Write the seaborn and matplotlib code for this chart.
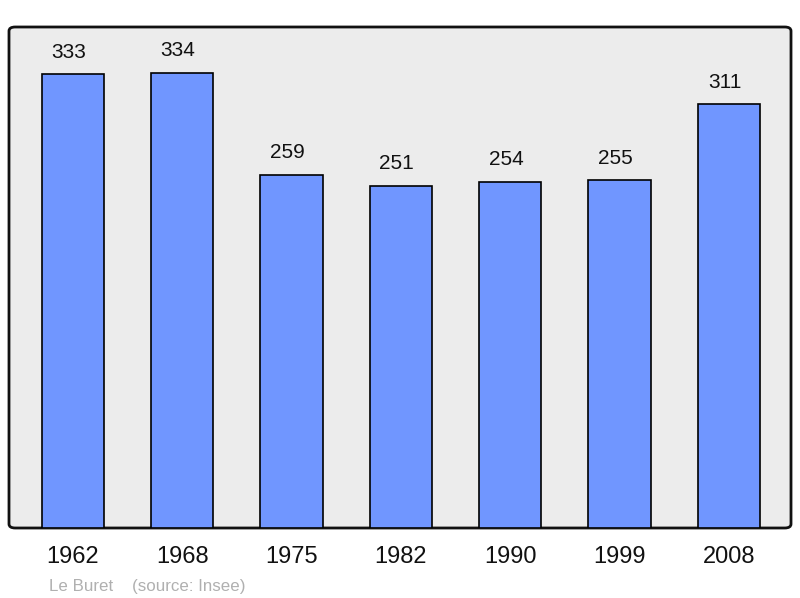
import matplotlib
matplotlib.use("Agg")
import matplotlib.pyplot as plt
import seaborn as sns
import pandas as pd
from matplotlib.patches import FancyBboxPatch

years = ["1962", "1968", "1975", "1982", "1990", "1999", "2008"]
population = [333, 334, 259, 251, 254, 255, 311]

df = pd.DataFrame({"year": years, "pop": population})

sns.set_style("white")
plt.rcParams["font.family"] = ["Liberation Sans", "DejaVu Sans"]

fig = plt.figure(figsize=(8, 5.98), dpi=100)
ax = fig.add_axes([9 / 800, 1 - 528 / 598, 782 / 800, 501 / 598])

sns.barplot(data=df, x="year", y="pop", color="#7096ff", saturation=1,
            width=0.57, edgecolor="black", linewidth=1.2, ax=ax)

ax.set_ylim(0, 367.5)
ax.set_xlim(-0.585, 6.57)
ax.set_facecolor("none")
for s in ax.spines.values():
    s.set_visible(False)

# rounded frame
frame = FancyBboxPatch((0, 0), 1, 1, boxstyle="round,pad=0,rounding_size=0.008",
                       transform=ax.transAxes, facecolor="#ececec",
                       edgecolor="#111111", linewidth=2, zorder=0, clip_on=False)
ax.add_patch(frame)

for i, v in enumerate(population):
    ax.annotate(str(v), (i, v), xytext=(-3, 9), textcoords="offset points",
                ha="center", va="bottom", fontsize=15, color="#111111")

ax.set_yticks([])
ax.set_xlabel("")
ax.set_ylabel("")
ax.tick_params(axis="x", length=0, labelsize=17, pad=13, colors="#111111")

fig.text(49 / 800, 1 - 591 / 598, "Le Buret    (source: Insee)", fontsize=12.2,
         color="#b0b0b0", ha="left", va="baseline")

fig.savefig("out.png", dpi=100)
